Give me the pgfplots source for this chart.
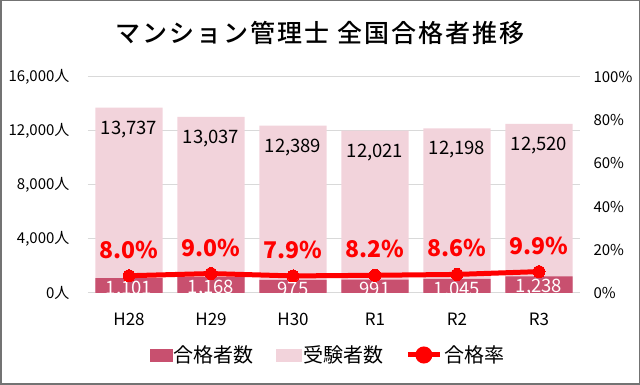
\documentclass[border=0pt]{standalone}
\usepackage{fontspec}
\setmainfont{Noto Sans CJK JP}
\newfontfamily\titlefont{Noto Sans CJK JP Medium}
\usepackage{pgfplots}
\pgfplotsset{compat=1.18}
\definecolor{darkrose}{RGB}{200,80,111}
\definecolor{lightpink}{RGB}{242,211,219}
\definecolor{gridgray}{RGB}{217,217,217}
\begin{document}
\begin{tikzpicture}
\useasboundingbox (0,0) rectangle (640pt,385pt);
\draw[draw=black!55, line width=1.5pt] (0.75pt,0.75pt) rectangle (639.25pt,384.25pt);
\node[font=\titlefont\fontsize{25}{30}\selectfont\addfontfeature{LetterSpace=8}] at (320pt,352pt) {マンション管理士 全国合格者推移};
\begin{axis}[
 at={(88pt,92pt)}, anchor=south west, scale only axis, width=492pt, height=216pt,
 xmin=-0.5, xmax=5.5, ymin=0, ymax=16000, scaled y ticks=false,
 axis x line*=bottom, axis y line*=left, axis line style={draw=none}, major tick length=0pt,
 ymajorgrids, grid style={draw=gridgray, line width=1pt},
 ytick={0,4000,8000,12000,16000},
 yticklabels={0人,{4,000人},{8,000人},{12,000人},{16,000人}},
 xtick={0,...,5}, xticklabels={H28,H29,H30,R1,R2,R3},
 yticklabel style={font=\fontsize{15}{18}\selectfont, xshift=-15pt},
 xticklabel style={font=\fontsize{17}{20}\selectfont, yshift=-17pt},
 clip=false,
]
\addplot[ybar, bar width=67pt, bar shift=0pt, fill=lightpink, draw=none,
 nodes near coords={\pgfmathprintnumber[fixed,precision=0,1000 sep={,},assume math mode=true]{\pgfplotspointmeta}},
 every node near coord/.append style={font=\fontsize{18.5}{22}\selectfont, text=black, anchor=north, inner sep=0pt, yshift=-13pt}]
 coordinates {(0,13737)(1,13037)(2,12389)(3,12021)(4,12198)(5,12520)};
\addplot[ybar, bar width=67pt, bar shift=0pt, fill=darkrose, draw=none,
 nodes near coords={\pgfmathprintnumber[fixed,precision=0,1000 sep={,},assume math mode=true]{\pgfplotspointmeta}},
 every node near coord/.append style={font=\fontsize{18.5}{22}\selectfont, text=white, anchor=north, inner sep=0pt, yshift=-2.5pt}]
 coordinates {(0,1101)(1,1168)(2,975)(3,991)(4,1045)(5,1238)};
\end{axis}
\begin{axis}[
 at={(88pt,92pt)}, anchor=south west, scale only axis, width=492pt, height=216pt,
 xmin=-0.5, xmax=5.5, ymin=0, ymax=100,
 axis y line*=right, axis x line=none, axis line style={draw=none}, major tick length=0pt,
 ytick={0,20,40,60,80,100}, yticklabels={0\%,20\%,40\%,60\%,80\%,100\%},
 yticklabel style={font=\fontsize{15}{18}\selectfont, xshift=10pt},
 clip=false,
 legend style={at={(0.5,-0.287)}, xshift=-6pt, anchor=center, draw=none, fill=none, font=\fontsize{20}{24}\selectfont, legend columns=3, /tikz/every even column/.style={column sep=20pt}},
]
\addlegendimage{legend image code/.code={\fill[darkrose] (0pt,-6pt) rectangle (22pt,6pt);}}
\addlegendimage{legend image code/.code={\fill[lightpink] (0pt,-6pt) rectangle (25pt,6pt);}}
\addplot[red, line width=5pt, mark=*, mark size=6pt, mark options={fill=red, draw=red, line width=0pt},
 legend image code/.code={\draw[red,line width=5pt] (0pt,0pt)--(32pt,0pt); \fill[red] (16pt,0pt) circle (6pt);},
 nodes near coords={\pgfmathprintnumber[fixed,fixed zerofill,precision=1,assume math mode=true]{\pgfplotspointmeta}\%},
 every node near coord/.append style={font=\fontsize{23}{26}\selectfont\bfseries, text=red, anchor=center, yshift=26pt}]
 coordinates {(0,8.0)(1,9.0)(2,7.9)(3,8.2)(4,8.6)(5,9.9)};
\legend{合格者数,受験者数,合格率}
\end{axis}
\end{tikzpicture}
\end{document}
